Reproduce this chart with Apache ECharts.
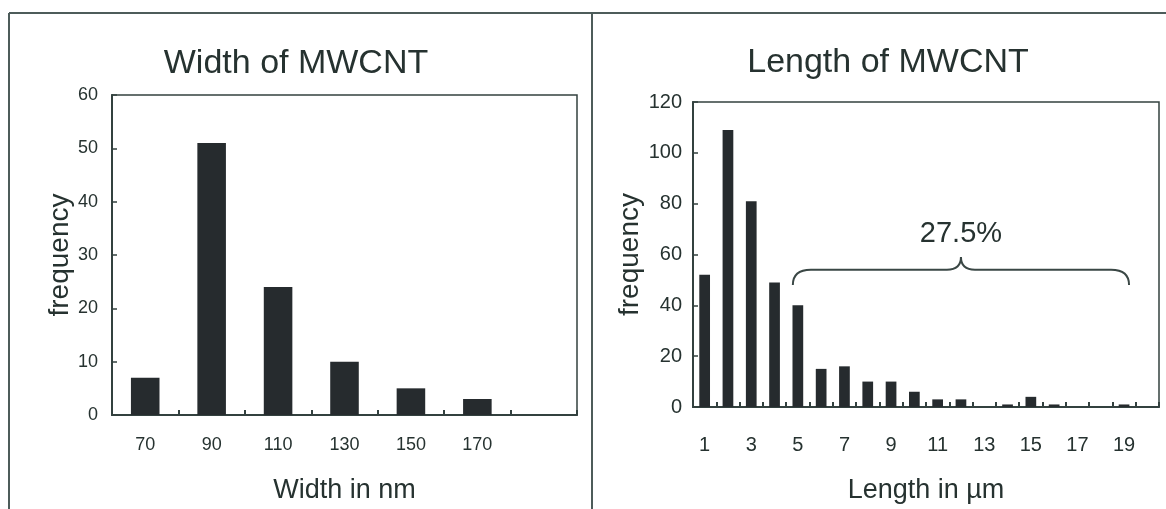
<!DOCTYPE html>
<html>
<head>
<meta charset="utf-8">
<script src="https://cdn.jsdelivr.net/npm/echarts@6/dist/echarts.min.js"></script>
<style>
html,body{margin:0;padding:0;background:#fff;}
#chart{width:1166px;height:509px;}
</style>
</head>
<body>
<div id="chart"></div>
<script>
// ---- Data ----
const widthCategories = ['70', '90', '110', '130', '150', '170', ''];
const widthFrequency = [7, 51, 24, 10, 5, 3, null];
const widthTicks = [0, 10, 20, 30, 40, 50, 60];

const lengthCategories = ['1','2','3','4','5','6','7','8','9','10','11','12','13','14','15','16','17','18','19',''];
const lengthFrequency = [52, 109, 81, 49, 40, 15, 16, 10, 10, 6, 3, 3, 0, 1, 4, 1, 0, 0, 1, null];
const lengthTicks = [0, 20, 40, 60, 80, 100, 120];

const braceLabel = '27.5%';
const braceFromCategory = '5';
const braceToCategory = '19';
const braceEndValue = 48;
const braceLineValue = 54;
const bracePeakValue = 59;
const braceLabelValue = 68;

// ---- Styles ----
const TXT = '#263230';
const AX = '#33413f';
const BAR = '#262b2e';
const FONT = '"Liberation Sans", Arial, sans-serif';

const chart = echarts.init(document.getElementById('chart'), null, {renderer: 'canvas'});

function xAxisCfg(gridIndex, cats, labelSize, labelInterval, margin, name, nameGap) {
  return {
    type: 'category', gridIndex, data: cats, boundaryGap: true,
    axisLine: {show: true, lineStyle: {color: AX, width: 2}},
    axisTick: {show: true, inside: true, length: 5, interval: 0, lineStyle: {color: AX, width: 2}},
    axisLabel: {interval: labelInterval, color: TXT, fontSize: labelSize, fontFamily: FONT, margin},
    splitLine: {show: false},
    name, nameLocation: 'middle', nameGap,
    nameTextStyle: {color: TXT, fontSize: 27, fontFamily: FONT}
  };
}
function yAxisCfg(gridIndex, ticks, labelSize, margin, nameGap) {
  return {
    type: 'value', gridIndex,
    min: ticks[0], max: ticks[ticks.length - 1], interval: ticks[1] - ticks[0],
    axisLine: {show: true, lineStyle: {color: AX, width: 2}},
    axisTick: {show: true, inside: true, length: 5, lineStyle: {color: AX, width: 1.5}},
    axisLabel: {color: TXT, fontSize: labelSize, fontFamily: FONT, margin},
    splitLine: {show: false},
    name: 'frequency', nameLocation: 'middle', nameGap,
    nameTextStyle: {color: TXT, fontSize: 28, fontFamily: FONT}
  };
}

const fromIdx = lengthCategories.indexOf(braceFromCategory);
const toIdx = lengthCategories.indexOf(braceToCategory);

const option = {
  backgroundColor: '#ffffff',
  animation: false,
  title: [
    {text: 'Width of MWCNT', left: 296, top: 47, textAlign: 'center', padding: 0,
     textStyle: {color: TXT, fontSize: 34, fontWeight: 'normal', fontFamily: FONT}},
    {text: 'Length of MWCNT', left: 888, top: 46, textAlign: 'center', padding: 0,
     textStyle: {color: TXT, fontSize: 34, fontWeight: 'normal', fontFamily: FONT}}
  ],
  grid: [
    {left: 112, top: 95, width: 465, height: 320, show: true, borderColor: AX, borderWidth: 1.5, containLabel: false},
    {left: 693, top: 102, width: 466, height: 305, show: true, borderColor: AX, borderWidth: 1.5, containLabel: false}
  ],
  xAxis: [
    xAxisCfg(0, widthCategories, 18, 0, 21, 'Width in nm', 62),
    xAxisCfg(1, lengthCategories, 20, 1, 28, 'Length in µm', 70)
  ],
  yAxis: [
    yAxisCfg(0, widthTicks, 18, 14, 38),
    yAxisCfg(1, lengthTicks, 20, 11, 48)
  ],
  graphic: [
    {type: 'line', shape: {x1: 9, y1: 13, x2: 1166, y2: 13}, style: {stroke: '#4d5c5a', lineWidth: 2}, silent: true},
    {type: 'line', shape: {x1: 9, y1: 13, x2: 9, y2: 509}, style: {stroke: '#4d5c5a', lineWidth: 2}, silent: true},
    {type: 'line', shape: {x1: 592, y1: 13, x2: 592, y2: 509}, style: {stroke: '#4d5c5a', lineWidth: 2}, silent: true}
  ],
  series: [
    {type: 'bar', xAxisIndex: 0, yAxisIndex: 0, data: widthFrequency, barWidth: '43%',
     itemStyle: {color: BAR}},
    {type: 'bar', xAxisIndex: 1, yAxisIndex: 1, data: lengthFrequency, barWidth: '46%',
     itemStyle: {color: BAR}},
    {type: 'custom', xAxisIndex: 1, yAxisIndex: 1, clip: false, silent: true,
     data: [[fromIdx, braceEndValue]],
     renderItem: function (params, api) {
       const p0 = api.coord([fromIdx, braceEndValue]);
       const p1 = api.coord([toIdx, braceEndValue]);
       const x0 = p0[0] - 5, x1 = p1[0] + 5, y0 = p0[1];
       const yH = api.coord([fromIdx, braceLineValue])[1];
       const yP = api.coord([fromIdx, bracePeakValue])[1];
       const yT = api.coord([fromIdx, braceLabelValue])[1];
       const xm = (x0 + x1) / 2;
       const r = 18, rm = 14;
       const d = 'M' + x0 + ' ' + y0 +
         ' Q' + x0 + ' ' + yH + ' ' + (x0 + r) + ' ' + yH +
         ' L' + (xm - rm) + ' ' + yH +
         ' Q' + xm + ' ' + yH + ' ' + xm + ' ' + yP +
         ' Q' + xm + ' ' + yH + ' ' + (xm + rm) + ' ' + yH +
         ' L' + (x1 - r) + ' ' + yH +
         ' Q' + x1 + ' ' + yH + ' ' + x1 + ' ' + y0;
       return {
         type: 'group',
         children: [
           {type: 'path', shape: {pathData: d}, style: {fill: null, stroke: '#3a4745', lineWidth: 2}},
           {type: 'text', style: {text: braceLabel, x: xm, y: yT, align: 'center', verticalAlign: 'middle',
             fill: TXT, fontSize: 29, fontFamily: FONT}}
         ]
       };
     }}
  ]
};
chart.setOption(option);
</script>
</body>
</html>
